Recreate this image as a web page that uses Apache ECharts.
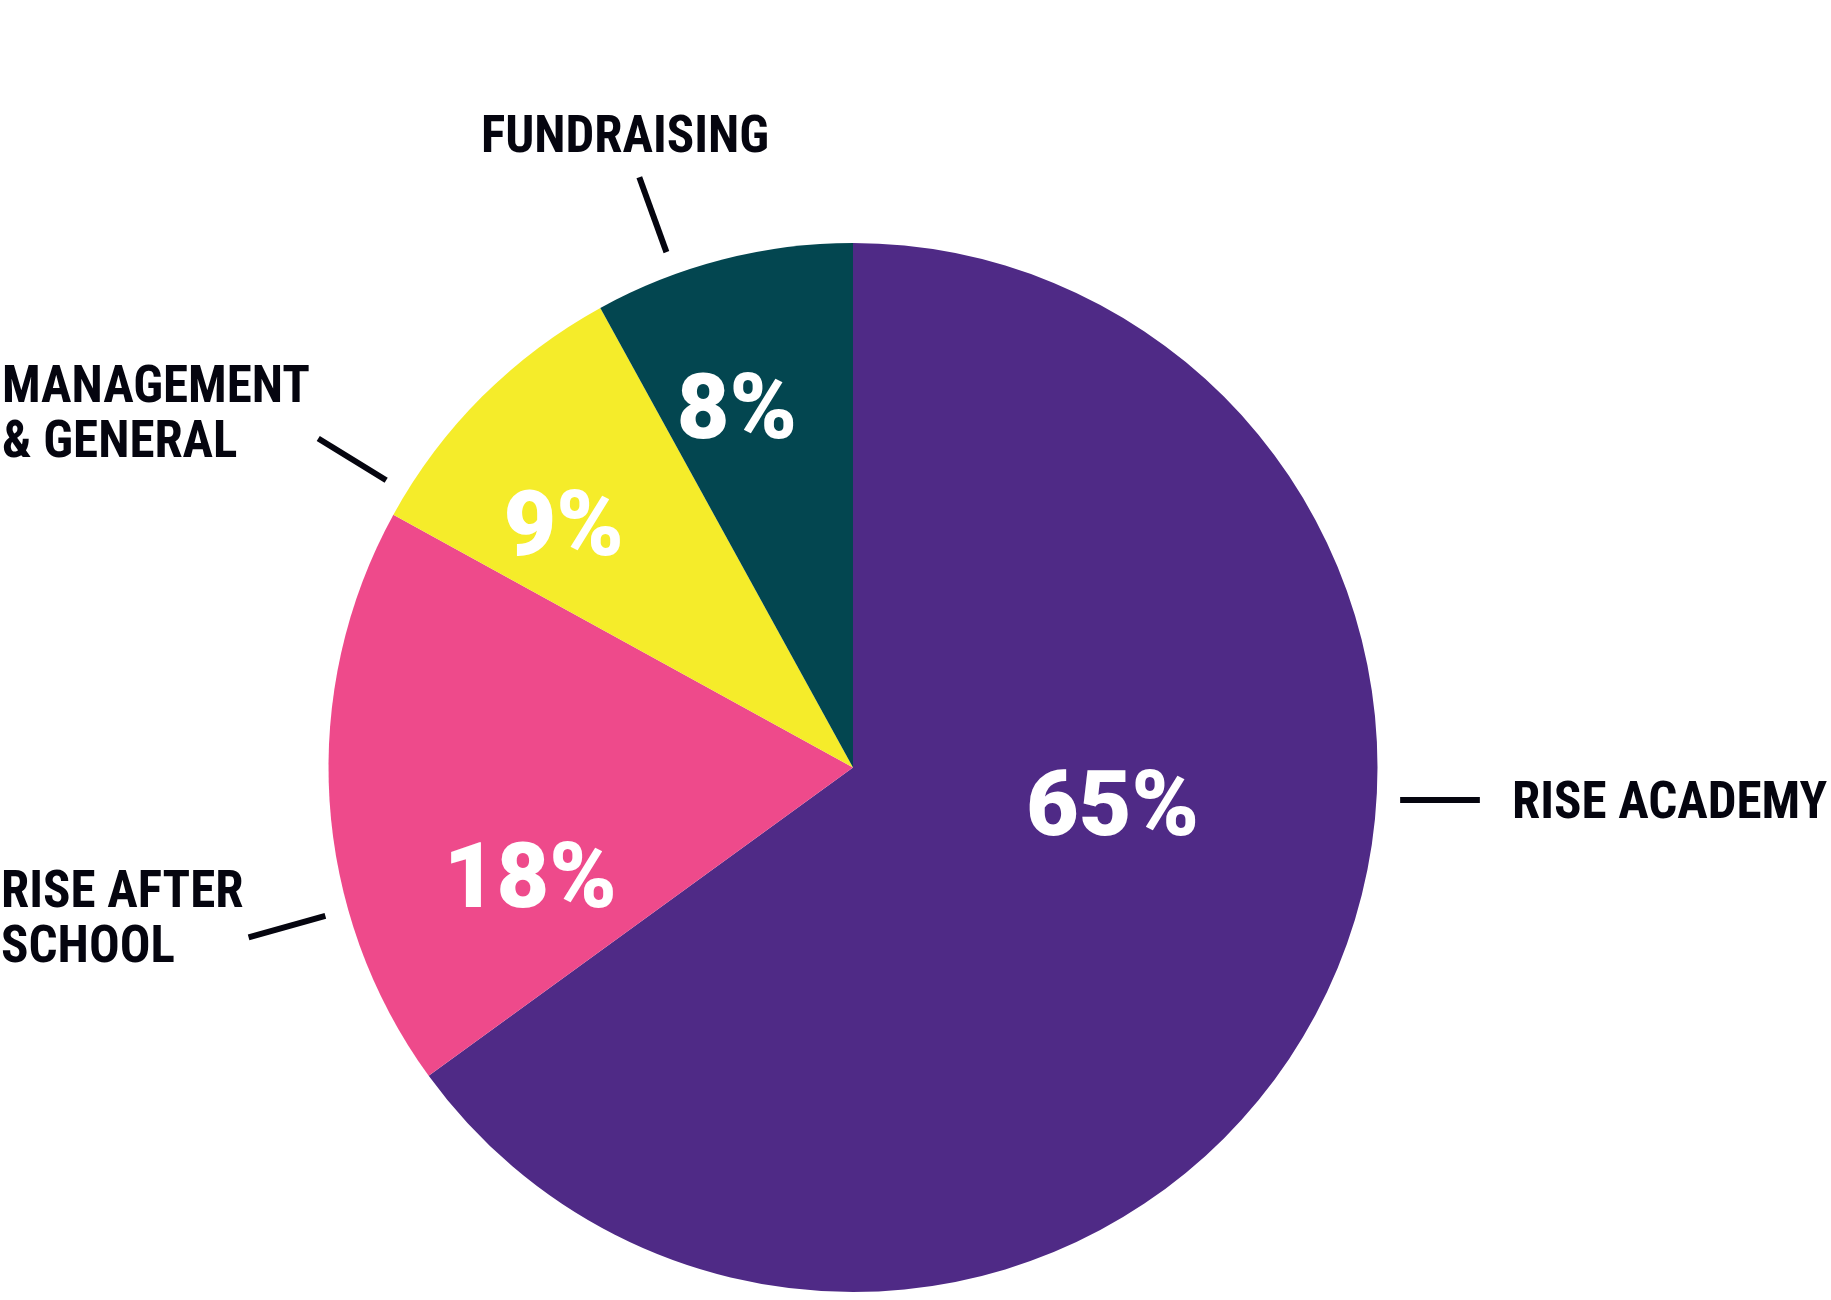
<!DOCTYPE html>
<html>
<head>
    <meta charset="utf-8">
    <title>Expenses</title>
    <script src="https://cdn.jsdelivr.net/npm/echarts@6/dist/echarts.min.js"></script>
    <style>
        html, body {
            margin: 0;
            padding: 0;
            background: #ffffff;
        }
        #chart1 {
            width: 1831px;
            height: 1300px;
        }
    </style>
</head>
<body>
<div id="chart1"></div>

<script type="text/javascript">
    // data
    var categories = ['RISE ACADEMY', 'RISE AFTER\nSCHOOL', 'MANAGEMENT\n& GENERAL', 'FUNDRAISING'];
    var percents = [65, 18, 9, 8];
    var sliceColors = ['#4f2a86', '#ee4a8b', '#f5ec2a', '#034650'];

    // pie geometry
    var cx = 853, cy = 767.5, R = 524.5;
    var NAME_FONT = '"Roboto Condensed", "Open Sans Condensed", "DejaVu Sans Condensed", sans-serif';
    var PCT_FONT = 'Roboto, "Liberation Sans", sans-serif';

    // where the white percent labels sit: clockwise angle from 12 o'clock, fraction of radius
    var pctSpots = [
        {ang: 98.3, rf: 0.50},
        {ang: 251.2, rf: 0.65},
        {ang: 310, rf: 0.72},
        {ang: 342.1, rf: 0.72}
    ];
    // leader line angles (clockwise from 12 o'clock), the academy one runs flat
    var lineAngles = [93.4, 254.3, 301.6, 340.1];
    var rIn = R * 1.045, rOut = R * 1.197;
    // name label anchors
    var nameSpots = [
        {x: 1512, y: 805, align: 'left'},
        {x: 1, y: 922, align: 'left'},
        {x: 2, y: 417, align: 'left'},
        {x: 625, y: 139, align: 'center'}
    ];

    function polar(angDeg, r) {
        var a = angDeg * Math.PI / 180;
        return [cx + r * Math.sin(a), cy - r * Math.cos(a)];
    }

    var pieData = categories.map(function (name, i) {
        return {name: name, value: percents[i], itemStyle: {color: sliceColors[i]}};
    });
    var ghostData = categories.map(function (name, i) {
        return {name: name, value: percents[i]};
    });

    var myChart = echarts.init(document.getElementById('chart1'));
    myChart.setOption({
        animation: false,
        series: [{
            // invisible copy that carries the names and leader lines
            name: 'names',
            type: 'pie',
            silent: true,
            center: [cx, cy],
            radius: R,
            startAngle: 90,
            avoidLabelOverlap: false,
            itemStyle: {color: 'rgba(0,0,0,0)', borderWidth: 0},
            label: {
                show: true,
                position: 'outside',
                formatter: '{b}',
                color: '#05050f',
                fontFamily: NAME_FONT,
                fontWeight: 'bold',
                fontSize: 51,
                lineHeight: 55,
                overflow: 'none'
            },
            labelLine: {
                show: true,
                smooth: false,
                lineStyle: {color: '#05050f', width: 6}
            },
            labelLayout: function (p) {
                var i = p.dataIndex;
                var s = nameSpots[i];
                var p1 = polar(lineAngles[i], rIn);
                var p2 = i === 0 ? [p1[0] + (rOut - rIn), p1[1]] : polar(lineAngles[i], rOut);
                return {
                    x: s.x,
                    y: s.y,
                    align: s.align,
                    verticalAlign: 'middle',
                    labelLinePoints: [p1, p2, p2]
                };
            },
            data: ghostData
        }, {
            name: 'share',
            type: 'pie',
            center: [cx, cy],
            radius: R,
            startAngle: 90,
            avoidLabelOverlap: false,
            itemStyle: {borderWidth: 0},
            emphasis: {disabled: true},
            label: {
                show: true,
                position: 'inside',
                formatter: '{c}%',
                color: '#ffffff',
                fontFamily: PCT_FONT,
                fontWeight: 900,
                fontSize: 91,
                overflow: 'none'
            },
            labelLine: {show: false},
            labelLayout: function (p) {
                var s = pctSpots[p.dataIndex];
                var pt = polar(s.ang, s.rf * R);
                return {x: pt[0], y: pt[1] + 7, align: 'center', verticalAlign: 'middle'};
            },
            data: pieData
        }]
    });
</script>
</body>
</html>
